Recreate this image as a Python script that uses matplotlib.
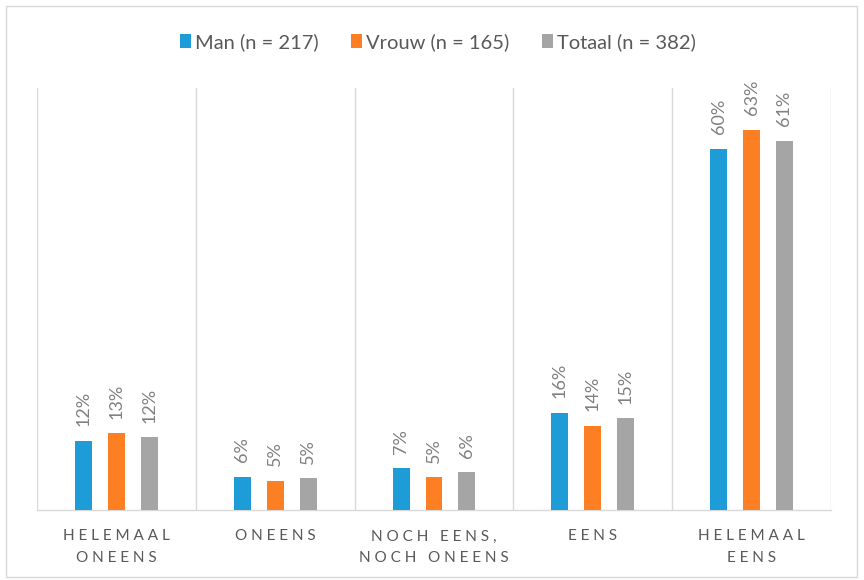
import matplotlib
matplotlib.use("Agg")
import matplotlib.pyplot as plt
from matplotlib.patches import Patch, Rectangle
import numpy as np

categories = ["HELEMAAL\nONEENS", "ONEENS", "NOCH EENS,\nNOCH ONEENS", "EENS", "HELEMAAL\nEENS"]
series_names = ["Man (n = 217)", "Vrouw (n = 165)", "Totaal (n = 382)"]
man = [11.52, 5.53, 6.91, 16.13, 59.91]
vrouw = [12.73, 4.85, 5.45, 13.94, 63.03]
totaal = [12.04, 5.24, 6.28, 15.18, 61.26]
colors = ["#1E9CD7", "#FD7F23", "#A5A5A5"]

plt.rcParams["font.family"] = ["Lato", "DejaVu Sans"]

fig = plt.figure(figsize=(8.64, 5.80), dpi=100)
ax = fig.add_axes([37 / 864, 70 / 580, (831 - 37) / 864, (510 - 88) / 580])

x = np.arange(len(categories))
width = 0.107
step = 0.207
for i, (vals, col) in enumerate(zip([man, vrouw, totaal], colors)):
    xs = x + (i - 1) * step
    ax.bar(xs, vals, width=width, color=col, zorder=3)
    for xi, v in zip(xs, vals):
        ax.annotate(f"{v:.0f}%", (xi, v), xytext=(0, 10.5), textcoords="offset points",
                    rotation=90, ha="center", va="bottom", color="#808080", fontsize=13)

ax.set_xlim(-0.5, len(categories) - 0.5)
ax.set_ylim(0, 70)
for b in np.arange(-0.5, len(categories), 1.0):
    ax.axvline(b, color="#D9D9D9", lw=1.0, zorder=1)
for s in ["top", "left", "right"]:
    ax.spines[s].set_visible(False)
ax.spines["bottom"].set_color("#D9D9D9")
ax.spines["bottom"].set_linewidth(1.0)
ax.set_yticks([])


def spaced(label):
    return "\n".join(" ".join(line) for line in label.split("\n"))


ax.set_xticks(x)
ax.set_xticklabels([spaced(c) for c in categories], color="#595959", fontsize=11,
                   linespacing=1.65)
ax.tick_params(axis="x", length=0, pad=14)

handles = [Patch(facecolor=c, edgecolor="none") for c in colors]
fig.legend(handles, series_names, loc="center", bbox_to_anchor=(438 / 864, 1 - 42 / 580),
           ncol=3, frameon=False, fontsize=14.5, handlelength=0.55, handleheight=0.7,
           handletextpad=0.2, columnspacing=1.6, labelcolor="#595959")

fig.patches.append(Rectangle((6 / 864, 3 / 580), 851 / 864, 571 / 580, transform=fig.transFigure,
                             fill=False, edgecolor="#D9D9D9", lw=1.0))

fig.savefig("out.png", dpi=100)
